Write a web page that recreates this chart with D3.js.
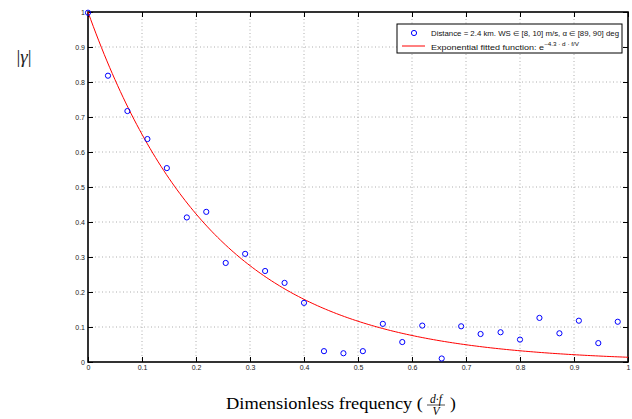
<!DOCTYPE html>
<html>
<head>
<meta charset="utf-8">
<script src="https://cdn.jsdelivr.net/npm/d3@7"></script>
<style>
  body { margin: 0; background: #fff; }
  svg { display: block; }
</style>
</head>
<body>
<div id="chart"></div>
<script>
// valeurs
const freq = [0, 0.037, 0.073, 0.11, 0.146, 0.183, 0.219, 0.255, 0.291, 0.328,
  0.364, 0.4, 0.437, 0.473, 0.509, 0.546, 0.582, 0.619, 0.655, 0.691,
  0.727, 0.764, 0.8, 0.836, 0.873, 0.909, 0.945, 0.981];
const gamma = [0.998, 0.818, 0.717, 0.637, 0.554, 0.413, 0.429, 0.283, 0.309, 0.26,
  0.226, 0.169, 0.031, 0.025, 0.031, 0.109, 0.057, 0.104, 0.01, 0.102,
  0.08, 0.085, 0.064, 0.126, 0.082, 0.118, 0.054, 0.115];
const fitRate = 4.3;
const xTicks = [0, 0.1, 0.2, 0.3, 0.4, 0.5, 0.6, 0.7, 0.8, 0.9, 1];
const yTicks = [0, 0.1, 0.2, 0.3, 0.4, 0.5, 0.6, 0.7, 0.8, 0.9, 1];

const W = 632, H = 419;
const margin = { top: 12, right: 4, bottom: 57, left: 88 };
const width = W - margin.left - margin.right;
const height = H - margin.top - margin.bottom;

const svg = d3.select('#chart').append('svg')
  .attr('width', W).attr('height', H);
const g = svg.append('g').attr('transform', `translate(${margin.left},${margin.top})`);

const x = d3.scaleLinear().domain([0, 1]).range([0, width]);
const y = d3.scaleLinear().domain([0, 1]).range([height, 0]);

// grille pointillée
g.selectAll('.gx').data(xTicks.slice(1, -1)).join('line')
  .attr('x1', d => x(d)).attr('x2', d => x(d))
  .attr('y1', 0).attr('y2', height)
  .attr('stroke', '#999').attr('stroke-width', 0.8).attr('stroke-dasharray', '1,2.5');
g.selectAll('.gy').data(yTicks.slice(1, -1)).join('line')
  .attr('y1', d => y(d)).attr('y2', d => y(d))
  .attr('x1', 0).attr('x2', width)
  .attr('stroke', '#999').attr('stroke-width', 0.8).attr('stroke-dasharray', '1,2.5');

// axes
const fmt = d => (d === 0 || d === 1) ? String(d) : d3.format('.1f')(d);
const axStyle = sel => {
  sel.select('.domain').remove();
  sel.selectAll('.tick line').attr('stroke', '#000').attr('stroke-width', 1);
  sel.selectAll('.tick text').attr('fill', '#222')
    .style('font-family', 'Arial, "Liberation Sans", sans-serif').style('font-size', '7px');
};
g.append('g').attr('transform', `translate(0,${height})`)
  .call(d3.axisBottom(x).tickValues(xTicks).tickFormat(fmt).tickSizeInner(-5).tickSizeOuter(0).tickPadding(3))
  .call(axStyle);
g.append('g')
  .call(d3.axisTop(x).tickValues(xTicks).tickFormat('').tickSizeInner(-5).tickSizeOuter(0))
  .call(axStyle);
g.append('g')
  .call(d3.axisLeft(y).tickValues(yTicks).tickFormat(fmt).tickSizeInner(-5).tickSizeOuter(0).tickPadding(3))
  .call(axStyle);
g.append('g').attr('transform', `translate(${width},0)`)
  .call(d3.axisRight(y).tickValues(yTicks).tickFormat('').tickSizeInner(-5).tickSizeOuter(0))
  .call(axStyle);

g.append('rect').attr('width', width).attr('height', height)
  .attr('fill', 'none').attr('stroke', '#000').attr('stroke-width', 1.6);

// courbe ajustée
const fitX = d3.range(0, 1.0001, 0.005);
g.append('path').datum(fitX)
  .attr('fill', 'none').attr('stroke', '#ff0000').attr('stroke-width', 1)
  .attr('d', d3.line().x(d => x(d)).y(d => y(Math.exp(-fitRate * d))));

// points mesurés
g.selectAll('.pt').data(freq).join('circle')
  .attr('cx', d => x(d)).attr('cy', (d, i) => y(gamma[i])).attr('r', 2.6)
  .attr('fill', 'none').attr('stroke', '#0000ff').attr('stroke-width', 1);

// légende
const leg = svg.append('g').attr('transform', 'translate(397,24)');
leg.append('rect').attr('width', 225).attr('height', 29)
  .attr('fill', '#fff').attr('stroke', '#000').attr('stroke-width', 1);
const lf = 'Arial, "Liberation Sans", sans-serif';
leg.append('circle').attr('cx', 17).attr('cy', 9).attr('r', 2.6)
  .attr('fill', 'none').attr('stroke', '#0000ff').attr('stroke-width', 1);
leg.append('text').attr('x', 34).attr('y', 11.5)
  .attr('textLength', 188).attr('lengthAdjust', 'spacingAndGlyphs')
  .style('font-family', lf).style('font-size', '7.4px').attr('fill', '#111')
  .text('Distance = 2.4 km. WS \u2208 [8, 10] m/s, \u03b1 \u2208 [89, 90] deg');
leg.append('line').attr('x1', 5).attr('x2', 28).attr('y1', 22).attr('y2', 22)
  .attr('stroke', '#ff0000').attr('stroke-width', 1);
const t2 = leg.append('text').attr('x', 34).attr('y', 25.5)
  .style('font-family', lf).style('font-size', '7.4px').attr('fill', '#111');
t2.append('tspan').attr('textLength', 113).attr('lengthAdjust', 'spacingAndGlyphs')
  .text('Exponential fitted function: e');
t2.append('tspan').attr('dy', -3.5).style('font-size', '5.2px')
  .attr('textLength', 35).attr('lengthAdjust', 'spacingAndGlyphs')
  .text('\u22124.3 \u00b7 d \u00b7 f/V');

// étiquette Y
const yl = svg.append('text').attr('x', 24).attr('y', 63).attr('text-anchor', 'middle')
  .style('font-family', '"Liberation Serif", "Times New Roman", serif').style('font-size', '19px').attr('fill', '#222');
yl.append('tspan').text('|');
yl.append('tspan').style('font-style', 'italic').text('\u03b3');
yl.append('tspan').text('|');

// étiquette X avec fraction
const serif = '"Liberation Serif", "Times New Roman", serif';
const xl = svg.append('g');
xl.append('text').attr('x', 226).attr('y', 409)
  .attr('textLength', 197).attr('lengthAdjust', 'spacingAndGlyphs')
  .style('font-family', serif).style('font-size', '17.5px').attr('fill', '#000')
  .text('Dimensionless frequency (');
const fx = 436;
xl.append('text').attr('x', fx).attr('y', 402.5).attr('text-anchor', 'middle')
  .style('font-family', serif).style('font-size', '11.5px').style('font-style', 'italic')
  .text('d\u00b7f');
xl.append('line').attr('x1', fx - 9).attr('x2', fx + 9).attr('y1', 405).attr('y2', 405)
  .attr('stroke', '#000').attr('stroke-width', 0.7);
xl.append('text').attr('x', fx).attr('y', 415).attr('text-anchor', 'middle')
  .style('font-family', serif).style('font-size', '11.5px').style('font-style', 'italic')
  .text('V');
xl.append('text').attr('x', fx + 14).attr('y', 409)
  .style('font-family', serif).style('font-size', '17.5px').text(')');
</script>
</body>
</html>
